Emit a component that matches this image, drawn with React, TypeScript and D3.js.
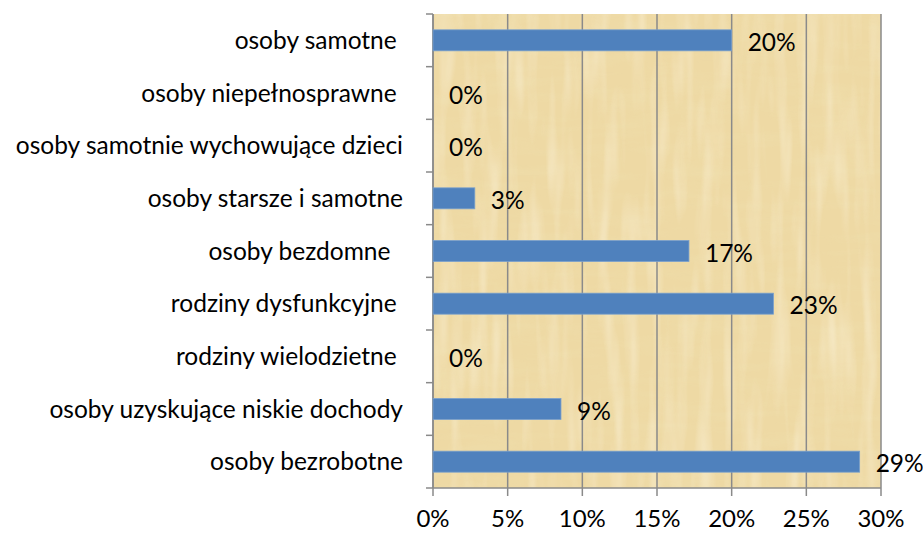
import React from "react";
import * as d3 from "d3";

const categories = [
  "osoby samotne ",
  "osoby niepełnosprawne ",
  "osoby samotnie wychowujące dzieci",
  "osoby starsze i samotne",
  "osoby bezdomne  ",
  "rodziny dysfunkcyjne ",
  "rodziny wielodzietne ",
  "osoby uzyskujące niskie dochody",
  "osoby bezrobotne",
];
const values = [0.2, 0, 0, 0.028, 0.1714, 0.228, 0, 0.0857, 0.2857];
const xTicks = [0, 0.05, 0.1, 0.15, 0.2, 0.25, 0.3];

const W = 923;
const H = 533;
const M = { left: 433, right: 42, top: 14, bottom: 45 };
const FONT = "Lato, 'Open Sans', sans-serif";
const FS = 24.5;

export default function App() {
  const x = d3.scaleLinear().domain([0, 0.3]).range([M.left, W - M.right]);
  const y = d3
    .scaleBand<string>()
    .domain(categories)
    .range([M.top, H - M.bottom])
    .paddingInner(0)
    .paddingOuter(0);
  const bandH = y.bandwidth();
  const barH = 21;
  const fmt = d3.format(".0%");
  const gridColor = "#8a8a8a";
  return (
    <svg width={W} height={H} style={{ position: "absolute", left: 0, top: 0, background: "#fff" }}>
      <defs>
        <filter id="papyrus" x="0" y="0" width="100%" height="100%">
          <feTurbulence type="fractalNoise" baseFrequency="0.015 0.09" numOctaves="3" seed="4" />
          <feColorMatrix
            type="matrix"
            values="0 0 0 0 0.86  0 0 0 0 0.74  0 0 0 0 0.42  0 0 0 1.8 -0.75"
          />
        </filter>
        <filter id="papyrus2" x="0" y="0" width="100%" height="100%">
          <feTurbulence type="fractalNoise" baseFrequency="0.08 0.01" numOctaves="2" seed="9" />
          <feColorMatrix
            type="matrix"
            values="0 0 0 0 1  0 0 0 0 0.96  0 0 0 0 0.84  0 0 0 1.8 -0.8"
          />
        </filter>
      </defs>
      <rect x={x(0)} y={M.top} width={x(0.3) - x(0)} height={H - M.bottom - M.top} fill="#eed9a4" />
      <rect
        x={x(0)}
        y={M.top}
        width={x(0.3) - x(0)}
        height={H - M.bottom - M.top}
        filter="url(#papyrus)"
        opacity={0.5}
      />
      <rect
        x={x(0)}
        y={M.top}
        width={x(0.3) - x(0)}
        height={H - M.bottom - M.top}
        filter="url(#papyrus2)"
        opacity={0.45}
      />
      {xTicks.map((t) => (
        <line key={t} x1={x(t)} x2={x(t)} y1={M.top} y2={H - M.bottom + 8} stroke={gridColor} strokeWidth={1.5} />
      ))}
      <line x1={x(0)} x2={x(0)} y1={M.top} y2={H - M.bottom} stroke={gridColor} strokeWidth={1.5} />
      {d3.range(categories.length + 1).map((i) => (
        <line
          key={i}
          x1={x(0) - 7}
          x2={x(0)}
          y1={M.top + i * bandH}
          y2={M.top + i * bandH}
          stroke={gridColor}
          strokeWidth={1.5}
        />
      ))}
      <line x1={x(0)} x2={x(0.3)} y1={H - M.bottom} y2={H - M.bottom} stroke={gridColor} strokeWidth={1.5} />
      {categories.map((c, i) => {
        const cy = (y(c) as number) + bandH / 2;
        return (
          <g key={c}>
            {values[i] > 0 && (
              <rect
                x={x(0)}
                y={cy - barH / 2}
                width={x(values[i]) - x(0)}
                height={barH}
                fill="#4f81bd"
                stroke="#7aa0cc"
                strokeWidth={0.8}
              />
            )}
            <text x={x(values[i]) + 16} y={cy + 2} dy="0.35em" fontFamily={FONT} fontSize={FS} fill="#000">
              {fmt(Math.round(values[i] * 100) / 100)}
            </text>
            <text
              x={403}
              y={cy}
              dy="0.35em"
              textAnchor="end"
              fontFamily={FONT}
              fontSize={FS}
              fill="#000"
              style={{ whiteSpace: "pre" }}
            >
              {c}
            </text>
          </g>
        );
      })}
      {xTicks.map((t) => (
        <text key={t} x={x(t)} y={527} textAnchor="middle" fontFamily={FONT} fontSize={24} fill="#000">
          {fmt(t)}
        </text>
      ))}
    </svg>
  );
}
